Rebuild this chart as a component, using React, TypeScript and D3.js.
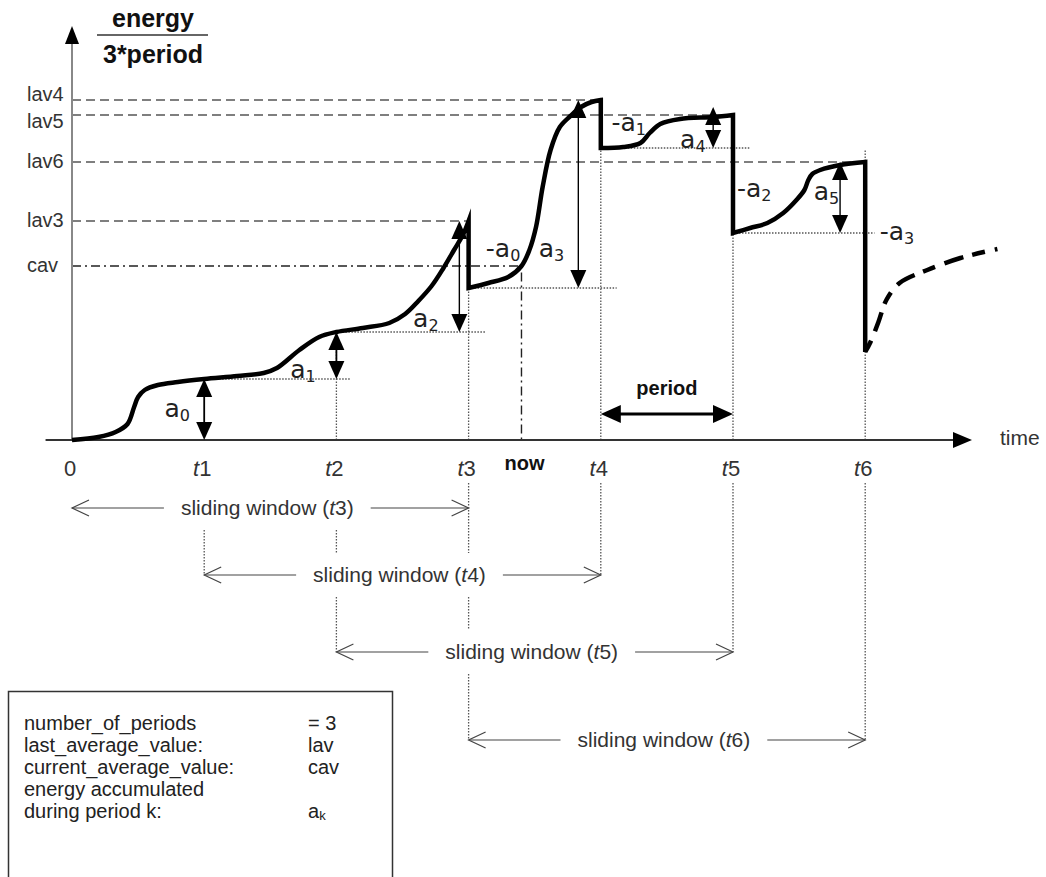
import React, { useEffect, useRef } from "react";
import * as d3 from "d3";

const WIDTH = 1046;
const HEIGHT = 877;

// ---- data ----
const tickTimes = [0, 1, 2, 3, 4, 5, 6];
const tickNumbers = ["0", "1", "2", "3", "4", "5", "6"];
const nowTime = 3.4;
const periodCount = 3;

const levelNames = ["lav4", "lav5", "lav6", "lav3"];
const levelValues = [340, 325, 278, 219];
const levelEndTimes = [4, 5, 6, 3];
const cavValue = 174;

// energy/(3*period) curve, one list per period (time in periods, value)
const seg1: [number, number][] = [
  [0, 0], [0.2, 3], [0.33, 8], [0.42, 16], [0.47, 33], [0.5, 43], [0.55, 50], [0.65, 55],
  [0.8, 58], [1.0, 61], [1.25, 64], [1.45, 67], [1.55, 72], [1.72, 90], [1.87, 103],
  [2.0, 108], [2.2, 112], [2.4, 117], [2.52, 126], [2.62, 139], [2.72, 154], [2.81, 172],
  [2.89, 190], [2.96, 206], [3.0, 219],
];
const seg2: [number, number][] = [
  [3.0, 152], [3.15, 157], [3.3, 163], [3.4, 174], [3.46, 190], [3.51, 213], [3.56, 253],
  [3.62, 290], [3.69, 313], [3.77, 324], [3.85, 333], [3.93, 338], [4.0, 340],
];
const seg3: [number, number][] = [
  [4.0, 292], [4.17, 293], [4.3, 297], [4.37, 307], [4.45, 316], [4.6, 321], [4.85, 323], [5.0, 325],
];
const seg4: [number, number][] = [
  [5.0, 207], [5.13, 212], [5.26, 217], [5.38, 227], [5.48, 240], [5.54, 250], [5.57, 260],
  [5.6, 266], [5.66, 270], [5.81, 275], [6.0, 278],
];
const dropEnd: [number, number] = [6.0, 88];
const forecast: [number, number][] = [
  [6.0, 88], [6.04, 98], [6.1, 118], [6.16, 140], [6.26, 157], [6.47, 170], [6.72, 182], [7.0, 191],
];

// accumulated energy arrows a_k
const arrowTimes = [1, 2, 2.93, 3.83, 4.85, 5.81];
const arrowFrom = [0, 61, 108, 152, 292, 207];
const arrowTo = [61, 108, 219, 340, 333, 278];

// labels: prefix, sub, time, value
const labelPrefix = ["a", "a", "a", "-a", "a", "-a", "a", "-a", "a", "-a"];
const labelSub = ["0", "1", "2", "0", "3", "1", "4", "2", "5", "3"];
const labelTimes = [0.7, 1.65, 2.58, 3.13, 3.53, 4.08, 4.6, 5.03, 5.61, 6.11];
const labelValues = [23, 62, 113, 183, 183, 309, 292, 243, 240, 200];

// dotted reference lines
const dotLevels = [61, 108, 152, 292, 207];
const dotStarts = [1, 2, 3, 4, 5];
const dotEnds = [2.11, 3.13, 4.12, 5.13, 6.07];
const dotVTimes = [2, 3, 4, 5, 6];
const dotVTops = [108, 152, 292, 207, 290];

// sliding windows
const windowEnds = [3, 4, 5, 6];

// legend
const legendKeys = ["number_of_periods", "last_average_value:", "current_average_value:", "energy accumulated", "during period k:"];
const legendVals = ["= 3", "lav", "cav", "", "a|k"];

// ---- layout ----
const levelLabelDy = [1, 13, 6, 6];
const windowRowY = [508, 575, 652, 740];

const FONT = "'Liberation Sans', Arial, Helvetica, sans-serif";
const AFONT = "'DejaVu Sans', Verdana, sans-serif";

export default function App() {
  const ref = useRef<SVGSVGElement>(null);

  useEffect(() => {
    const svg = d3.select(ref.current!);
    svg.selectAll("*").remove();

    const x = d3.scaleLinear().domain([0, 7]).range([72, 997.4]);
    const y = d3.scaleLinear().domain([0, 340]).range([440, 100]);

    const g = svg.append("g");

    const head = (tx: number, ty: number, dir: string, len = 17, half = 8, fill = "#000") => {
      let pts: [number, number][];
      if (dir === "up") pts = [[tx, ty], [tx - half, ty + len], [tx + half, ty + len]];
      else if (dir === "down") pts = [[tx, ty], [tx - half, ty - len], [tx + half, ty - len]];
      else if (dir === "left") pts = [[tx, ty], [tx + len, ty - half], [tx + len, ty + half]];
      else pts = [[tx, ty], [tx - len, ty - half], [tx - len, ty + half]];
      g.append("path").attr("d", "M" + pts.map((p) => p.join(",")).join("L") + "Z").attr("fill", fill);
    };

    // dashed level lines
    levelValues.forEach((v, i) => {
      g.append("line")
        .attr("x1", x(0)).attr("x2", x(levelEndTimes[i]))
        .attr("y1", y(v)).attr("y2", y(v))
        .attr("stroke", "#555").attr("stroke-width", 1.6).attr("stroke-dasharray", "9,5");
      g.append("text")
        .attr("x", 27).attr("y", y(v) + levelLabelDy[i])
        .attr("font-family", FONT).attr("font-size", 20).attr("fill", "#333")
        .text(levelNames[i]);
    });
    // cav dash-dot
    g.append("path")
      .attr("d", `M${x(0)},${y(cavValue)}H${x(nowTime)}V${y(0)}`)
      .attr("fill", "none").attr("stroke", "#222").attr("stroke-width", 1.4)
      .attr("stroke-dasharray", "9,4,2,4");
    g.append("text")
      .attr("x", 27).attr("y", y(cavValue) + 6)
      .attr("font-family", FONT).attr("font-size", 20).attr("fill", "#333")
      .text("cav");

    // dotted reference lines
    const dotted = (x1: number, y1: number, x2: number, y2: number) =>
      g.append("line").attr("x1", x1).attr("y1", y1).attr("x2", x2).attr("y2", y2)
        .attr("stroke", "#555").attr("stroke-width", 1.3).attr("stroke-dasharray", "1.5,1.5");
    dotLevels.forEach((v, i) => dotted(x(dotStarts[i]), y(v), x(dotEnds[i]), y(v)));
    dotVTimes.forEach((t, i) => dotted(x(t), y(0), x(t), y(dotVTops[i])));

    // axes
    g.append("line").attr("x1", x(0)).attr("x2", x(0)).attr("y1", y(0)).attr("y2", 40)
      .attr("stroke", "#888").attr("stroke-width", 2);
    head(x(0), 26, "up", 18, 7);
    g.append("line").attr("x1", x(-0.2)).attr("x2", 955).attr("y1", y(0)).attr("y2", y(0))
      .attr("stroke", "#333").attr("stroke-width", 2);
    head(972, y(0), "right", 19, 8);
    g.append("text").attr("x", 1000).attr("y", 445)
      .attr("font-family", FONT).attr("font-size", 21).attr("fill", "#333").text("time");

    // y title
    const ttl = g.append("g").attr("font-family", FONT).attr("font-weight", "bold").attr("font-size", 25)
      .attr("fill", "#111").attr("text-anchor", "middle");
    ttl.append("text").attr("x", 153).attr("y", 27).text("energy");
    ttl.append("text").attr("x", 153).attr("y", 63).text("3*period");
    g.append("line").attr("x1", 97).attr("x2", 208).attr("y1", 35).attr("y2", 35)
      .attr("stroke", "#333").attr("stroke-width", 1.5);

    // tick labels
    tickTimes.forEach((t, i) => {
      const tx = g.append("text").attr("x", x(t) - 2).attr("y", 476).attr("text-anchor", "middle")
        .attr("font-family", FONT).attr("font-size", 22).attr("fill", "#333");
      if (t === 0) tx.text(tickNumbers[i]);
      else {
        tx.append("tspan").attr("font-style", "italic").text("t");
        tx.append("tspan").text(tickNumbers[i]);
      }
    });
    g.append("text").attr("x", x(nowTime) + 3).attr("y", 470).attr("text-anchor", "middle")
      .attr("font-family", FONT).attr("font-weight", "bold").attr("font-size", 20).attr("fill", "#111")
      .text("now");

    // period arrow
    const pY = 414;
    g.append("line").attr("x1", x(4) + 12).attr("x2", x(5) - 12).attr("y1", pY).attr("y2", pY)
      .attr("stroke", "#000").attr("stroke-width", 3.2);
    head(x(4), pY, "left", 20, 9);
    head(x(5), pY, "right", 20, 9);
    g.append("text").attr("x", (x(4) + x(5)) / 2).attr("y", 395).attr("text-anchor", "middle")
      .attr("font-family", FONT).attr("font-weight", "bold").attr("font-size", 20).attr("fill", "#111")
      .text("period");

    // a_k arrows
    arrowTimes.forEach((t, i) => {
      const ax = x(t);
      const y0 = y(arrowFrom[i]);
      const y1 = y(arrowTo[i]);
      g.append("line").attr("x1", ax).attr("x2", ax).attr("y1", y0 - 10).attr("y2", y1 + 10)
        .attr("stroke", "#000").attr("stroke-width", i < 2 ? 1.8 : 1.4);
      head(ax, y0, "down", 18, 8);
      head(ax, y1, "up", 18, 8);
    });

    // curve
    const line = d3.line<[number, number]>()
      .x((d) => x(d[0])).y((d) => y(d[1]))
      .curve(d3.curveCatmullRom.alpha(0.5));
    const join = (s: string) => s.replace(/^M/, "L");
    const d =
      line(seg1)! + join(line(seg2)!) + join(line(seg3)!) + join(line(seg4)!) +
      `L${x(dropEnd[0])},${y(dropEnd[1])}`;
    g.append("path").attr("d", d).attr("fill", "none").attr("stroke", "#000")
      .attr("stroke-width", 4.5).attr("stroke-linejoin", "miter").attr("stroke-miterlimit", 10);
    g.append("path").attr("d", line(forecast)!).attr("fill", "none").attr("stroke", "#000")
      .attr("stroke-width", 4.5).attr("stroke-dasharray", "13,10,20,9");

    // a labels
    labelPrefix.forEach((p, i) => {
      const tx = g.append("text").attr("x", x(labelTimes[i])).attr("y", y(labelValues[i]))
        .attr("font-family", AFONT).attr("font-size", 25).attr("fill", "#222");
      tx.append("tspan").text(p);
      tx.append("tspan").attr("font-size", 16).attr("dy", 4).text(labelSub[i]);
    });

    // sliding windows
    const extents: [number, number][] = [];
    windowEnds.forEach((e, i) => {
      const s = e - periodCount;
      const ry = windowRowY[i];
      const cx = (x(s) + x(e)) / 2 - 3;
      const txt = g.append("text").attr("x", cx).attr("y", ry + 7).attr("text-anchor", "middle")
        .attr("font-family", FONT).attr("font-size", 21).attr("fill", "#333");
      txt.append("tspan").text("sliding window (");
      txt.append("tspan").attr("font-style", "italic").text("t");
      txt.append("tspan").text(`${e})`);
      const w = (txt.node() as SVGTextElement).getComputedTextLength();
      const l = cx - w / 2, r = cx + w / 2;
      extents.push([l, r]);
      const st = (a: number, b: number) =>
        g.append("line").attr("x1", a).attr("x2", b).attr("y1", ry).attr("y2", ry)
          .attr("stroke", "#444").attr("stroke-width", 1.2);
      st(x(s), l - 17);
      st(r + 17, x(e));
      const chev = (tx: number, dir: number) =>
        g.append("path").attr("d", `M${tx + dir * 17},${ry - 8}L${tx},${ry}L${tx + dir * 17},${ry + 8}`)
          .attr("fill", "none").attr("stroke", "#444").attr("stroke-width", 1.2);
      chev(x(s), 1);
      chev(x(e), -1);
    });

    // dotted verticals below the axis
    tickTimes.slice(1).forEach((t) => {
      const vx = x(t);
      let bottom = 0;
      windowEnds.forEach((e, i) => {
        if (e === t || e - periodCount === t) bottom = Math.max(bottom, windowRowY[i]);
      });
      const gaps: [number, number][] = [];
      windowEnds.forEach((e, i) => {
        const [l, r] = extents[i];
        if (vx > l - 4 && vx < r + 4 && windowRowY[i] < bottom) gaps.push([windowRowY[i] - 22, windowRowY[i] + 22]);
      });
      let cur = 483;
      gaps.sort((a, b) => a[0] - b[0]).forEach(([a, b]) => {
        if (a - cur > 4) dotted(vx, cur, vx, a);
        cur = Math.max(cur, b);
      });
      if (bottom - cur > 4) dotted(vx, cur, vx, bottom);
    });

    // legend
    g.append("rect").attr("x", 8.5).attr("y", 691.5).attr("width", 384).attr("height", 220)
      .attr("fill", "none").attr("stroke", "#333").attr("stroke-width", 1.5);
    legendKeys.forEach((k, i) => {
      const by = 730 + i * 22;
      g.append("text").attr("x", 24).attr("y", by).attr("font-family", FONT).attr("font-size", 20)
        .attr("fill", "#222").text(k);
      const v = legendVals[i];
      if (v) {
        const tv = g.append("text").attr("x", 308).attr("y", by).attr("font-family", FONT).attr("font-size", 20)
          .attr("fill", "#222");
        if (v.includes("|")) {
          const [m, sb] = v.split("|");
          tv.append("tspan").text(m);
          tv.append("tspan").attr("font-size", 13).attr("dy", 2).text(sb);
        } else tv.text(v);
      }
    });
  }, []);

  return (
    <svg
      ref={ref}
      width={WIDTH}
      height={HEIGHT}
      style={{ position: "absolute", left: 0, top: 0, background: "#fff" }}
    />
  );
}
